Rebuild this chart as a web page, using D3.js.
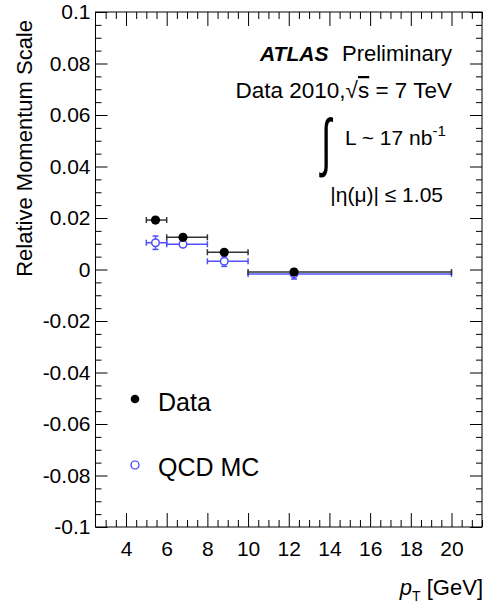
<!DOCTYPE html>
<html>
<head>
<meta charset="utf-8">
<script src="https://cdn.jsdelivr.net/npm/d3@7"></script>
<style>
  html, body { margin: 0; padding: 0; background: #fff; }
  svg { display: block; font-family: "Liberation Sans", Arial, Helvetica, sans-serif; }
</style>
</head>
<body>
<svg id="chart" width="486" height="611"></svg>
<script>
// ---- data ----
const binLow   = [5, 6, 8, 10];
const binHigh  = [6, 8, 10, 20];
const dataX    = [5.45, 6.8, 8.83, 12.26];
const dataY    = [0.0192, 0.0125, 0.0067, -0.0010];
const dataYErr = [0.0008, 0.0008, 0.0010, 0.0008];
const mcX      = [5.45, 6.8, 8.83, 12.26];
const mcY      = [0.0104, 0.0098, 0.0032, -0.0017];
const mcYErr   = [0.0026, 0.0010, 0.0020, 0.0020];
const xMajorTicks = [4, 6, 8, 10, 12, 14, 16, 18, 20];
const yMajorTicks = [-0.1, -0.08, -0.06, -0.04, -0.02, 0, 0.02, 0.04, 0.06, 0.08, 0.1];
const yTickLabels = ["-0.1", "-0.08", "-0.06", "-0.04", "-0.02", "0", "0.02", "0.04", "0.06", "0.08", "0.1"];
const legendLabels = ["Data", "QCD MC"];

// ---- layout ----
const L = 95.5, R = 482, T = 12, B = 527;
const svg = d3.select("#chart");
const x = d3.scaleLinear().domain([2.5, 21.5]).range([L, R]);
const y = d3.scaleLinear().domain([-0.1, 0.1]).range([B, T]);

const xMinor = d3.range(3, 21.5001, 0.5).filter(v => !xMajorTicks.some(m => Math.abs(m - v) < 1e-6));
const yMinor = d3.range(-0.095, 0.0951, 0.005).filter(v => !yMajorTicks.some(m => Math.abs(m - v) < 1e-6));

const tickFont = 21;
function styleAxis(g) {
  g.select(".domain").remove();
  g.selectAll("line").attr("stroke", "#000").attr("stroke-width", 1);
  g.selectAll("text").attr("font-size", tickFont).attr("fill", "#000")
    .attr("font-family", "Liberation Sans, Arial, Helvetica, sans-serif");
}

// bottom
svg.append("g").attr("transform", `translate(0,${B})`)
  .call(d3.axisBottom(x).tickValues(xMajorTicks).tickSize(-14).tickSizeOuter(0).tickPadding(14).tickFormat(d3.format("d")))
  .call(styleAxis);
svg.append("g").attr("transform", `translate(0,${B})`)
  .call(d3.axisBottom(x).tickValues(xMinor).tickSize(-7).tickSizeOuter(0).tickFormat(""))
  .call(styleAxis);
// top
svg.append("g").attr("transform", `translate(0,${T})`)
  .call(d3.axisTop(x).tickValues(xMajorTicks).tickSize(-14).tickSizeOuter(0).tickFormat(""))
  .call(styleAxis);
svg.append("g").attr("transform", `translate(0,${T})`)
  .call(d3.axisTop(x).tickValues(xMinor).tickSize(-7).tickSizeOuter(0).tickFormat(""))
  .call(styleAxis);
// left
svg.append("g").attr("transform", `translate(${L},0)`)
  .call(d3.axisLeft(y).tickValues(yMajorTicks).tickSize(-12).tickSizeOuter(0).tickPadding(5)
    .tickFormat((d, i) => yTickLabels[i]))
  .call(styleAxis);
svg.append("g").attr("transform", `translate(${L},0)`)
  .call(d3.axisLeft(y).tickValues(yMinor).tickSize(-6).tickSizeOuter(0).tickFormat(""))
  .call(styleAxis);
// right
svg.append("g").attr("transform", `translate(${R},0)`)
  .call(d3.axisRight(y).tickValues(yMajorTicks).tickSize(-12).tickSizeOuter(0).tickFormat(""))
  .call(styleAxis);
svg.append("g").attr("transform", `translate(${R},0)`)
  .call(d3.axisRight(y).tickValues(yMinor).tickSize(-6).tickSizeOuter(0).tickFormat(""))
  .call(styleAxis);

// frame
svg.append("rect").attr("x", L).attr("y", T).attr("width", R - L).attr("height", B - T)
  .attr("fill", "none").attr("stroke", "#000").attr("stroke-width", 1);

// ---- error bars & markers ----
function drawSeries(xs, ys, yerr, color, filled, r) {
  const g = svg.append("g");
  const cap = 3;
  xs.forEach((xv, i) => {
    const cy = y(ys[i]);
    const x0 = x(binLow[i]), x1 = x(binHigh[i]);
    g.append("line").attr("x1", x0).attr("x2", x1).attr("y1", cy).attr("y2", cy)
      .attr("stroke", color).attr("stroke-width", 1.5);
    g.append("line").attr("x1", x0).attr("x2", x0).attr("y1", cy - cap).attr("y2", cy + cap)
      .attr("stroke", color).attr("stroke-width", 1.5);
    g.append("line").attr("x1", x1).attr("x2", x1).attr("y1", cy - cap).attr("y2", cy + cap)
      .attr("stroke", color).attr("stroke-width", 1.5);
    const ya = y(ys[i] + yerr[i]), yb = y(ys[i] - yerr[i]);
    g.append("line").attr("x1", x(xv)).attr("x2", x(xv)).attr("y1", ya).attr("y2", yb)
      .attr("stroke", color).attr("stroke-width", 1.5);
    g.append("line").attr("x1", x(xv) - cap).attr("x2", x(xv) + cap).attr("y1", ya).attr("y2", ya)
      .attr("stroke", color).attr("stroke-width", 1.5);
    g.append("line").attr("x1", x(xv) - cap).attr("x2", x(xv) + cap).attr("y1", yb).attr("y2", yb)
      .attr("stroke", color).attr("stroke-width", 1.5);
  });
  xs.forEach((xv, i) => {
    g.append("circle").attr("cx", x(xv)).attr("cy", y(ys[i])).attr("r", r)
      .attr("fill", filled ? "#000" : "#fff")
      .attr("stroke", filled ? "#000" : color).attr("stroke-width", filled ? 0 : 1.5);
  });
}
drawSeries(mcX, mcY, mcYErr, "#5050ff", false, 3.8);
drawSeries(dataX, dataY, dataYErr, "#333", true, 4.6);

// ---- legend ----
svg.append("circle").attr("cx", 135).attr("cy", 399).attr("r", 4.3).attr("fill", "#000");
svg.append("text").attr("x", 158).attr("y", 411).attr("font-size", 25).text(legendLabels[0]);
svg.append("circle").attr("cx", 135).attr("cy", 465).attr("r", 4).attr("fill", "#fff")
  .attr("stroke", "#3333ff").attr("stroke-width", 1.2);
svg.append("text").attr("x", 158).attr("y", 476).attr("font-size", 25).text(legendLabels[1]);

// ---- annotations ----
const ann = svg.append("g").attr("font-size", 21).attr("fill", "#000");
ann.append("text").attr("x", 452).attr("y", 61).attr("text-anchor", "end").attr("font-size", 22)
  .text("Preliminary");
ann.append("text").attr("x", 260).attr("y", 61).attr("font-weight", "bold").attr("font-style", "italic")
  .text("ATLAS");
const t2 = ann.append("text").attr("x", 452).attr("y", 98).attr("text-anchor", "end").attr("font-size", 22.5);
t2.append("tspan").text("Data 2010,\u221A");
t2.append("tspan").style("text-decoration", "overline").text("s");
t2.append("tspan").text(" = 7 TeV");
// integral sign, stretched vertically
ann.append("text").attr("transform", "translate(321,164) scale(0.85,1.45)").attr("font-size", 44)
  .attr("font-family", "Liberation Sans, Arial, sans-serif").text("\u222B");
const t3 = ann.append("text").attr("x", 345).attr("y", 145);
t3.append("tspan").text("L ~ 17 nb");
t3.append("tspan").attr("font-size", 15).attr("dy", -9).text("-1");
ann.append("text").attr("x", 443).attr("y", 202).attr("text-anchor", "end")
  .text("|\u03B7(\u03BC)| \u2264 1.05");

// ---- axis titles ----
svg.append("text").attr("transform", "translate(32,20) rotate(-90)")
  .attr("text-anchor", "end").attr("font-size", 22).text("Relative Momentum Scale");
const xt = svg.append("text").attr("x", 483).attr("y", 595).attr("text-anchor", "end").attr("font-size", 22);
xt.append("tspan").attr("font-style", "italic").text("p");
xt.append("tspan").attr("font-size", 14).attr("dy", 6).text("T");
xt.append("tspan").attr("dy", -6).text(" [GeV]");
</script>
</body>
</html>
